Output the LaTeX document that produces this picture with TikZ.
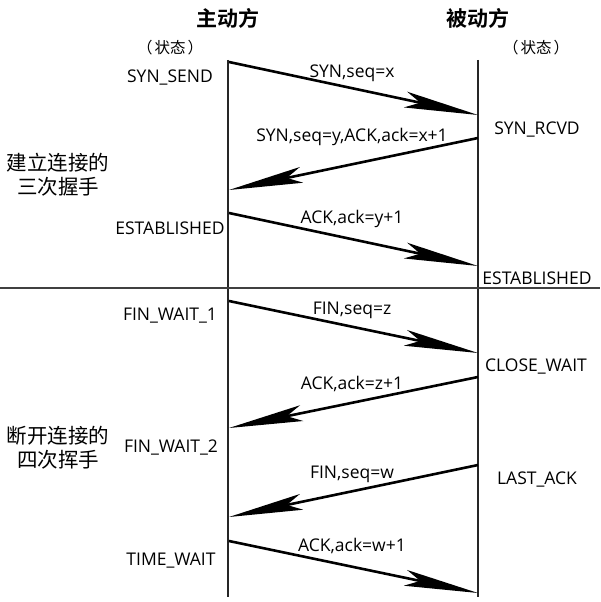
\documentclass[tikz,border=0pt]{standalone}
\usepackage{fontspec}
\setmainfont{Open Sans}
\newfontfamily\cjkfont{Noto Sans CJK SC}
\newfontfamily\cjkbold{Noto Sans CJK SC Bold}
\usetikzlibrary{arrows.meta}
\tikzset{
  life/.style={line width=1.5pt, black!85},
  divider/.style={line width=1.3pt, black!75},
  msg/.style={line width=2.6pt, -{Stealth[length=74pt,width=16pt,inset=15pt]}},
  state/.style={font=\fontsize{17.5}{20}\selectfont, inner sep=0pt},
  msglabel/.style={font=\fontsize{17.5}{20}\selectfont, inner sep=0pt},
  head/.style={font=\cjkbold\fontsize{21}{23}\selectfont, inner sep=0pt},
  paren/.style={font=\cjkfont\fontsize{15.5}{18}\selectfont, inner sep=0pt},
  phase/.style={font=\cjkfont\fontsize{20.5}{24}\selectfont, inner sep=0pt, align=center}
}
\begin{document}
\begin{tikzpicture}[x=1pt,y=-1pt]
\useasboundingbox (0,0) rectangle (600,602);
% lifelines
\coordinate (Lt) at (228,60); \coordinate (Lb) at (228,597);
\coordinate (Rt) at (478,60); \coordinate (Rb) at (478,597);
\coordinate (Hl) at (0,288); \coordinate (Hr) at (600,288);
\draw[life] (Lt) -- (Lb);
\draw[life] (Rt) -- (Rb);
\draw[divider] (Hl) -- (Hr);
% headers
\node[head] (hA) at (228,18) {主动方};
\node[head] (hB) at (478,18) {被动方};
\node[paren] (pA) at (170,48) {（\kern2pt状态\kern2pt）};
\node[paren] (pB) at (536,48) {（\kern2pt状态\kern2pt）};
% phases
\node[phase] (ph1) at (58,175) {建立连接的\\三次握手};
\node[phase] (ph2) at (58,448) {断开连接的\\四次挥手};
% left states
\node[state] (s1) at (170,78) {SYN\_SEND};
\node[state] (s2) at (170,228) {ESTABLISHED};
\node[state] (s3) at (170,316) {FIN\_WAIT\_1};
\node[state] (s4) at (171,448) {FIN\_WAIT\_2};
\node[state] (s5) at (171,561) {TIME\_WAIT};
% right states
\node[state] (r1) at (537,130) {SYN\_RCVD};
\node[state] (r2) at (537,278) {ESTABLISHED};
\node[state] (r3) at (536,366) {CLOSE\_WAIT};
\node[state] (r4) at (537,480) {LAST\_ACK};
% message endpoints
\coordinate (a1s) at (229,62);  \coordinate (a1e) at (478,115);
\coordinate (a2s) at (478,138); \coordinate (a2e) at (229,190);
\coordinate (a3s) at (229,213); \coordinate (a3e) at (478,266);
\coordinate (a4s) at (229,301); \coordinate (a4e) at (478,353);
\coordinate (a5s) at (478,377); \coordinate (a5e) at (229,428);
\coordinate (a6s) at (478,465); \coordinate (a6e) at (229,517);
\coordinate (a7s) at (229,541); \coordinate (a7e) at (478,593);
\draw[msg] (a1s) -- (a1e);
\draw[msg] (a2s) -- (a2e);
\draw[msg] (a3s) -- (a3e);
\draw[msg] (a4s) -- (a4e);
\draw[msg] (a5s) -- (a5e);
\draw[msg] (a6s) -- (a6e);
\draw[msg] (a7s) -- (a7e);
% labels
\node[msglabel] (m1) at (352,73) {SYN,seq=x};
\node[msglabel] (m2) at (352,137) {SYN,seq=y,ACK,ack=x+1};
\node[msglabel] (m3) at (352,219) {ACK,ack=y+1};
\node[msglabel] (m4) at (352,310) {FIN,seq=z};
\node[msglabel] (m5) at (352,384) {ACK,ack=z+1};
\node[msglabel] (m6) at (352,474) {FIN,seq=w};
\node[msglabel] (m7) at (352,546) {ACK,ack=w+1};
\end{tikzpicture}
\end{document}
